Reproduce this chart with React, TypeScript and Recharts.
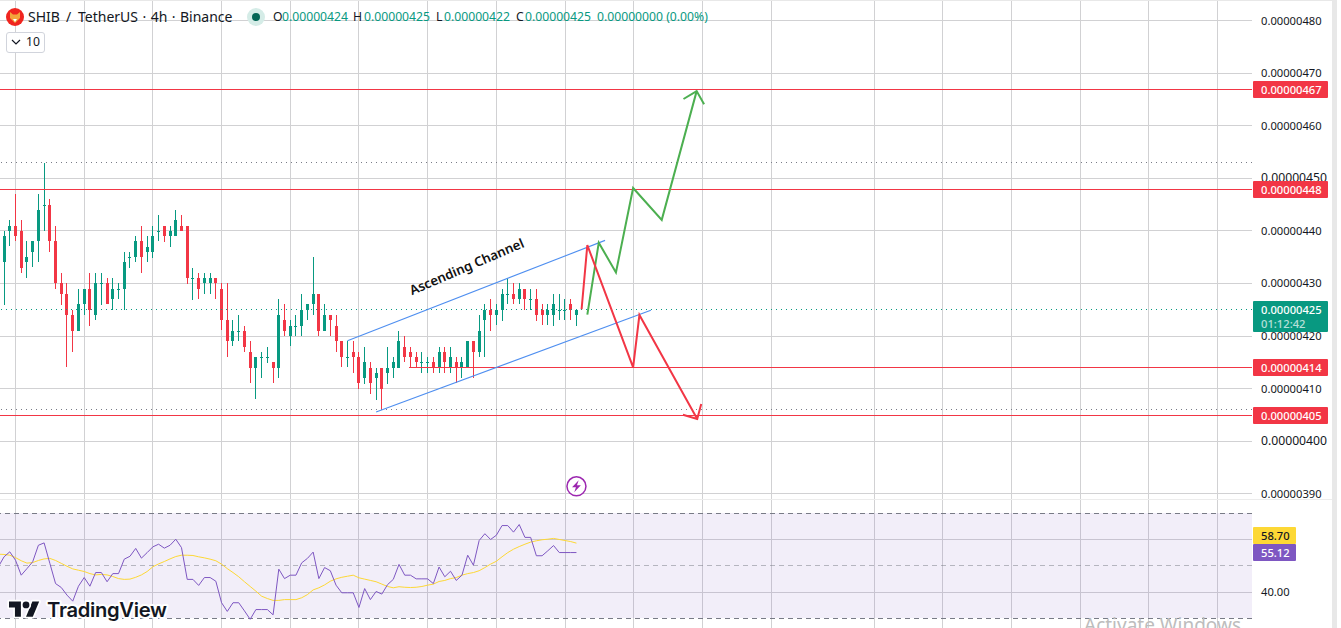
import React from 'react';
import {
  Bar,
  CartesianGrid,
  ComposedChart,
  Line,
  ReferenceArea,
  ReferenceDot,
  ReferenceLine,
  XAxis,
  YAxis,
} from 'recharts';

// prices are in units of 0.00000001 (425 = 0.00000425)
const opens = [
  434, 440, 441, 440, 434, 436, 438, 445, 445, 438,
  430, 428, 424, 421, 426, 429, 424, 430, 430, 427,
  429, 429, 435, 435, 438, 436, 436, 440, 441, 439,
  439, 441, 441, 431, 431, 430, 430, 431, 429, 423,
  419, 421, 421, 417, 414, 416, 416, 415, 414, 423,
  420, 422, 422, 425, 426, 428, 421, 424, 422, 419,
  416, 417, 416, 412, 414, 412, 414, 413, 414, 414,
  418, 417, 416, 415, 415, 415, 414, 417, 414, 415,
  414, 414, 419, 417, 423, 425, 424, 425, 428, 428,
  427, 429, 427, 427, 425, 424, 424, 425, 425, 426, 424,
];
const highs = [
  440, 442, 447, 442, 438, 438, 447, 453, 446, 441,
  432, 430, 425, 429, 429, 432, 432, 432, 431, 431,
  430, 436, 436, 439, 441, 439, 441, 443, 441, 441,
  444, 443, 441, 433, 432, 432, 432, 431, 430, 430,
  423, 424, 422, 419, 416, 417, 418, 415, 427, 426,
  423, 424, 428, 426, 435, 428, 426, 424, 424, 419,
  419, 419, 417, 418, 415, 414, 414, 418, 416, 421,
  420, 418, 417, 417, 416, 416, 418, 418, 418, 416,
  416, 419, 419, 424, 426, 427, 426, 429, 431, 430,
  430, 429, 429, 429, 426, 426, 428, 428, 427, 427, 425,
];
const lows = [
  426, 437, 438, 432, 431, 433, 434, 440, 436, 429,
  426, 414, 417, 421, 424, 422, 423, 426, 426, 425,
  427, 425, 433, 434, 432, 434, 435, 438, 438, 437,
  439, 440, 430, 427, 427, 428, 428, 427, 421, 416,
  418, 419, 417, 411, 408, 412, 415, 411, 412, 420,
  418, 420, 420, 423, 424, 420, 421, 420, 417, 414,
  414, 413, 410, 411, 409, 408, 406, 411, 412, 414,
  415, 414, 414, 413, 413, 413, 413, 413, 413, 411,
  412, 414, 412, 416, 416, 421, 422, 423, 426, 426,
  426, 425, 425, 423, 422, 422, 422, 423, 423, 423, 422,
];
const closes = [
  439, 441, 439, 433, 435, 438, 444, 445, 438, 430,
  428, 424, 421, 426, 429, 425, 430, 430, 426, 429,
  429, 434, 435, 438, 435, 437, 439, 440, 439, 440,
  442, 440, 431, 431, 429, 431, 431, 430, 423, 419,
  421, 421, 418, 414, 416, 416, 416, 414, 424, 421,
  422, 422, 425, 426, 428, 421, 424, 423, 419, 416,
  416, 416, 411, 415, 411, 413, 410, 414, 415, 419,
  416, 416, 415, 415, 415, 414, 417, 415, 416, 414,
  415, 419, 417, 421, 425, 424, 425, 428, 428, 427,
  429, 427, 427, 424, 424, 425, 426, 425, 425, 425, 425,
];

// first entry of both sits one bar left of the first candle
const rsiValues = [
  49.7,
  53.5, 55.4, 52.2, 46.5, 49.0, 51.6, 57.9, 58.8, 51.0, 43.3,
  41.8, 38.9, 36.6, 42.3, 45.6, 42.3, 47.5, 47.5, 44.0, 47.1,
  47.1, 52.6, 53.7, 56.7, 53.0, 55.1, 57.3, 58.3, 56.8, 57.9,
  60.2, 57.0, 44.9, 44.9, 42.6, 45.6, 45.6, 44.2, 36.0, 32.7,
  36.0, 36.0, 32.9, 29.7, 33.4, 33.4, 33.4, 31.4, 48.8, 45.2,
  46.5, 46.5, 51.2, 52.9, 55.3, 45.2, 49.4, 48.2, 42.7, 39.8,
  39.8, 39.8, 34.2, 41.4, 37.2, 40.3, 39.3, 42.9, 44.9, 50.6,
  46.5, 46.5, 45.1, 45.1, 45.1, 43.3, 49.6, 45.9, 48.0, 44.5,
  46.5, 54.1, 50.3, 59.7, 62.3, 60.1, 61.7, 65.4, 65.4, 62.9,
  65.8, 60.9, 60.9, 53.9, 53.9, 55.8, 57.8, 55.12, 55.12, 55.12, 55.12,
];
const rsiAverage = [
  54.5,
  54.4, 54.1, 53.2, 52.0, 51.1, 51.3, 52.1, 52.7, 52.9, 52.1,
  51.0, 49.9, 48.9, 48.4, 47.9, 47.1, 46.6, 46.8, 46.6, 46.0,
  45.2, 44.9, 45.0, 45.7, 46.6, 47.9, 49.7, 50.8, 51.7, 52.7,
  53.6, 54.1, 54.1, 54.0, 53.5, 53.1, 52.6, 52.0, 50.7, 49.0,
  47.5, 45.9, 44.0, 42.2, 40.4, 38.5, 37.6, 36.9, 36.9, 37.2,
  37.2, 37.2, 37.9, 39.1, 40.9, 41.7, 42.8, 44.2, 45.1, 45.7,
  46.1, 46.5, 45.5, 45.0, 44.5, 44.0, 43.1, 42.2, 41.7, 42.1,
  41.9, 41.8, 41.9, 42.2, 42.7, 43.1, 44.1, 44.5, 45.2, 45.6,
  46.5, 47.1, 47.5, 48.2, 49.4, 50.7, 51.8, 53.5, 55.1, 56.4,
  57.4, 58.3, 59.1, 59.6, 60.0, 60.2, 60.5, 60.1, 59.7, 59.3, 58.7,
];

const priceTicks = [390, 400, 410, 420, 430, 440, 450, 460, 470, 480];
const rsiTicks = [40, 60];
const timeTicks = [2, 14, 26, 38, 50, 62, 74, 86, 98, 110, 122, 134, 152, 164, 176, 188, 200, 212];

// hand drawn levels: value, bar where the line starts
const levels = [
  [466.95, -1],
  [447.9, -1],
  [414, 70.8],
  [404.9, -1],
];
const dottedGrey = [453, 406];

// hand drawn trend lines, [bar, price]
const channelUpper = [[60, 419.1], [105, 438.2]];
const channelLower = [[65, 405.55], [113, 424.9]];
const greenPath = [[101.9, 424.06], [103.9, 437.76], [106.9, 432.1], [109.9, 448.17], [114.9, 442.1], [121, 466.6]];
const greenHead = [[118.7, 465.1], [121, 466.6], [122.3, 464.1]];
const redPath = [[100.9, 425.1], [101.9, 437.3], [109.9, 414.05], [111, 424], [121.1, 404.2]];
const redHead = [[118.6, 405.03], [121.1, 404.2], [121.8, 407.07]];

const GREEN = '#089981';
const RED = '#f23645';
const BLUE = '#4f8ff0';
const GRID = '#d1d1d3';
const FONT = '"Noto Sans", sans-serif';
const X_DOMAIN: [number, number] = [-0.708, 218.02];

const candles = opens.map((open, i) => ({ i, open, high: highs[i], low: lows[i], close: closes[i] }));
const rsiRows = rsiValues.map((rsi, k) => ({ i: k - 1, rsi, avg: rsiAverage[k] }));
const toRows = (pts: number[][]) => pts.map(([i, p]) => ({ i, p }));
const fmt = (v: number) => `0.00000${Math.round(v)}`;

const Candle = (props: any) => {
  const { x, y, width, height, payload } = props;
  const { open, high, low, close } = payload;
  const cx = Math.floor(x + width / 2);
  const unit = height / (high - low);
  const top = Math.round(y + (high - Math.max(open, close)) * unit);
  const bottom = Math.round(y + (high - Math.min(open, close)) * unit);
  const color = close >= open ? GREEN : RED;
  return (
    <g>
      <rect x={cx} y={Math.round(y)} width={1} height={Math.round(height)} fill={color} />
      <rect x={cx - 1} y={top} width={3} height={Math.max(bottom - top, 1)} fill={color} />
    </g>
  );
};

const PriceTick = (props: any) => {
  const { x, y, payload } = props;
  const big = payload.value === 400 || payload.value === 450;
  return (
    <text x={x + 1} y={y + 4} fontFamily={FONT} fontSize={big ? 12.2 : 11.2} fill="#131722">
      {fmt(payload.value)}
    </text>
  );
};

const RsiTick = (props: any) => (
  <text x={props.x + 1} y={props.y + 4} fontFamily={FONT} fontSize={11.2} fill="#131722">
    {props.payload.value.toFixed(2)}
  </text>
);

const Tag = (props: any) => {
  const { viewBox, text, sub, fill, color, w, h = 17, dy = 0 } = props;
  const left = viewBox.x + viewBox.width + 1;
  const top = Math.round(viewBox.y - 8.5 + dy);
  return (
    <g fontFamily={FONT} fontSize={11.2} fontWeight={500}>
      <rect x={left} y={top} width={w} height={h} fill={fill} rx={1} />
      <text x={left + 8} y={top + 12.5} fill={color}>{text}</text>
      {sub ? <text x={left + 8} y={top + 27} fill={color} opacity={0.7}>{sub}</text> : null}
    </g>
  );
};

const Bolt = (props: any) => {
  const { cx, cy } = props;
  return (
    <g transform={`translate(${cx},${cy})`}>
      <circle r={9.5} fill="#fff" stroke="#9c27b0" strokeWidth={1.5} />
      <path d="M2.2 -6 L-4.4 1 L-0.5 1 L-2.2 6 L4.4 -1 L0.5 -1 Z" fill="#9c27b0" />
    </g>
  );
};

const ChannelText = (props: any) => {
  const { cx, cy } = props;
  return (
    <text
      x={cx}
      y={cy}
      transform={`rotate(-23.2 ${cx} ${cy})`}
      textAnchor="middle"
      dominantBaseline="middle"
      fontFamily={FONT}
      fontSize={13.2}
      fontWeight={600}
      fill="#111"
    >
      Ascending Channel
    </text>
  );
};

const Text = ({ x, y, size = 12.2, color = '#131722', weight = 400, children, spacing = 0 }: any) => (
  <span
    style={{
      position: 'absolute',
      left: x,
      top: y,
      fontSize: size,
      color,
      fontWeight: weight,
      lineHeight: '16px',
      whiteSpace: 'nowrap',
      wordSpacing: spacing,
    }}
  >
    {children}
  </span>
);

const trendLine = (rows: number[][], color: string, width: number, key: string) => (
  <Line
    key={key}
    data={toRows(rows)}
    dataKey="p"
    stroke={color}
    strokeWidth={width}
    dot={false}
    activeDot={false}
    isAnimationActive={false}
    legendType="none"
  />
);

export default function App() {
  return (
    <div
      style={{
        position: 'absolute',
        left: 0,
        top: 0,
        width: 1341,
        height: 628,
        overflow: 'hidden',
        background: '#fff',
        fontFamily: FONT,
      }}
    >
      <div style={{ position: 'absolute', left: 0, top: 0 }}>
        <ComposedChart width={1341} height={499} data={candles} margin={{ top: 0, right: 0, bottom: 0, left: 0 }}>
          <CartesianGrid stroke={GRID} syncWithTicks shapeRendering="crispEdges" />
          <XAxis dataKey="i" type="number" domain={X_DOMAIN} ticks={timeTicks} interval={0} allowDataOverflow hide />
          <YAxis
            orientation="right"
            width={89}
            domain={[388.99, 483.94]}
            ticks={priceTicks}
            interval={0}
            allowDataOverflow
            axisLine={false}
            tickLine={false}
            tick={<PriceTick />}
          />
          {dottedGrey.map((v) => (
            <ReferenceLine key={v} y={v} stroke="#787b86" strokeDasharray="1.5 3.5" shapeRendering="crispEdges" />
          ))}
          <ReferenceLine y={425} stroke={GREEN} strokeDasharray="1.5 3.5" shapeRendering="crispEdges" />
          {levels.map(([v, start]) => (
            <ReferenceLine
              key={v}
              segment={[{ x: start, y: v }, { x: X_DOMAIN[1], y: v }]}
              stroke={RED}
              ifOverflow="hidden"
              shapeRendering="crispEdges"
            />
          ))}
          <Bar dataKey={(d: any) => [d.low, d.high]} barSize={3} isAnimationActive={false} shape={<Candle />} />
          {trendLine(channelUpper, BLUE, 1.1, 'cu')}
          {trendLine(channelLower, BLUE, 1.1, 'cl')}
          {trendLine(greenPath, '#4caf50', 2, 'gp')}
          {trendLine(greenHead, '#4caf50', 2, 'gh')}
          {trendLine(redPath, RED, 2, 'rp')}
          {trendLine(redHead, RED, 2, 'rh')}
          <ReferenceDot x={80.9} y={433} shape={<ChannelText />} />
          <ReferenceDot x={100} y={391.4} shape={<Bolt />} />
          {levels.map(([v]) => (
            <ReferenceLine
              key={`tag${v}`}
              y={v}
              stroke="none"
              zIndex={3000}
              label={<Tag text={fmt(v)} fill={RED} color="#fff" w={75} />}
            />
          ))}
          <ReferenceLine
            y={425}
            stroke="none"
            zIndex={3000}
            label={<Tag text={fmt(425)} sub="01:12:42" fill={GREEN} color="#fff" w={75} h={31} />}
          />
        </ComposedChart>
      </div>

      <div style={{ position: 'absolute', left: 0, top: 499 }}>
        <ComposedChart width={1341} height={129} data={rsiRows} margin={{ top: 0, right: 0, bottom: 0, left: 0 }}>
          <CartesianGrid stroke={GRID} syncWithTicks shapeRendering="crispEdges" />
          <XAxis dataKey="i" type="number" domain={X_DOMAIN} ticks={timeTicks} interval={0} allowDataOverflow hide />
          <YAxis
            orientation="right"
            width={89}
            domain={[26.38, 75.52]}
            ticks={rsiTicks}
            interval={0}
            allowDataOverflow
            axisLine={false}
            tickLine={false}
            tick={<RsiTick />}
          />
          <ReferenceArea y1={30} y2={70} fill="#7e57c2" fillOpacity={0.1} stroke="none" shapeRendering="crispEdges" />
          <ReferenceLine y={70} stroke="#787b86" strokeDasharray="5 4" shapeRendering="crispEdges" />
          <ReferenceLine y={50} stroke="#787b86" strokeOpacity={0.5} strokeDasharray="5 4" shapeRendering="crispEdges" />
          <ReferenceLine y={30} stroke="#787b86" strokeDasharray="5 4" shapeRendering="crispEdges" />
          <Line dataKey="avg" stroke="#fdd835" strokeWidth={1} dot={false} activeDot={false} isAnimationActive={false} />
          <Line dataKey="rsi" stroke="#7e57c2" strokeWidth={1} dot={false} activeDot={false} isAnimationActive={false} />
          <ReferenceLine
            y={58.7}
            stroke="none"
            zIndex={3000}
            label={<Tag text="58.70" fill="#fdd835" color="#131722" w={43} dy={-7.7} />}
          />
          <ReferenceLine
            y={55.12}
            stroke="none"
            zIndex={3000}
            label={<Tag text="55.12" fill="#7e57c2" color="#fff" w={43} />}
          />
        </ComposedChart>
      </div>

      {/* pane frame */}
      <div style={{ position: 'absolute', left: 0, top: 499, width: 1332, height: 1, background: '#ececec' }} />
      <div style={{ position: 'absolute', left: 0, top: 0, width: 1337, height: 1, background: '#e8e8e8' }} />
      <div style={{ position: 'absolute', left: 1332, top: 0, width: 5, height: 628, background: '#e8e8e8' }} />

      {/* legend */}
      <svg style={{ position: 'absolute', left: 6, top: 8 }} width={18} height={18}>
        <circle cx={9} cy={9} r={9} fill="#f0251f" />
        <path d="M4 4 L7 6.5 L11 6.5 L14 4 L14 10 L9 15 L4 10 Z" fill="#f3a43b" />
        <path d="M7 11 L11 11 L9 14 Z" fill="#fff" />
      </svg>
      <Text x={28} y={9} size={14}>SHIB</Text>
      <Text x={66} y={9} size={14}>/</Text>
      <Text x={78} y={9} size={14} spacing={0.8}>TetherUS · 4h · Binance</Text>
      <svg style={{ position: 'absolute', left: 247, top: 8 }} width={18} height={18}>
        <circle cx={9} cy={9} r={9} fill="#d5ece7" />
        <circle cx={9} cy={9} r={4} fill="#056656" />
      </svg>
      <Text x={273} y={9}>O</Text>
      <Text x={282} y={9} color={GREEN}>0.00000424</Text>
      <Text x={353} y={9}>H</Text>
      <Text x={364} y={9} color={GREEN}>0.00000425</Text>
      <Text x={436} y={9}>L</Text>
      <Text x={444} y={9} color={GREEN}>0.00000422</Text>
      <Text x={516} y={9}>C</Text>
      <Text x={525} y={9} color={GREEN}>0.00000425</Text>
      <Text x={597} y={9} color={GREEN}>0.00000000 (0.00%)</Text>
      <div
        style={{
          position: 'absolute',
          left: 6,
          top: 32,
          width: 37,
          height: 19,
          border: '1px solid #d1d4dc',
          borderRadius: 3,
          background: '#fff',
        }}
      />
      <svg style={{ position: 'absolute', left: 11, top: 37 }} width={10} height={10}>
        <path d="M1 3 L5 7 L9 3" fill="none" stroke="#131722" strokeWidth={1.2} />
      </svg>
      <Text x={26} y={34}>10</Text>

      {/* watermark */}
      <svg style={{ position: 'absolute', left: 4, top: 595 }} width={170} height={32}>
        <g transform="translate(5,6.5) scale(0.85)" stroke="#fff" strokeWidth={4} paintOrder="stroke" strokeLinejoin="round">
          <path d="M14 22H7V11H0V4h14v18zM28 22h-8l7.5-18h8L28 22z" fill="#131722" transform="translate(0,-4)" />
          <circle cx={20} cy={4} r={4} fill="#131722" />
        </g>
        <text
          x={43}
          y={22}
          fontFamily="Inter, sans-serif"
          fontSize={20.2}
          fontWeight={600}
          letterSpacing={-0.3}
          fill="#131722"
          stroke="#fff"
          strokeWidth={4}
          strokeLinejoin="round"
          paintOrder="stroke"
        >
          TradingView
        </text>
      </svg>

      <span
        style={{
          position: 'absolute',
          left: 1084,
          top: 613,
          fontSize: 19,
          lineHeight: '24px',
          color: '#bdbdbd',
          whiteSpace: 'nowrap',
        }}
      >
        Activate Windows
      </span>
    </div>
  );
}
